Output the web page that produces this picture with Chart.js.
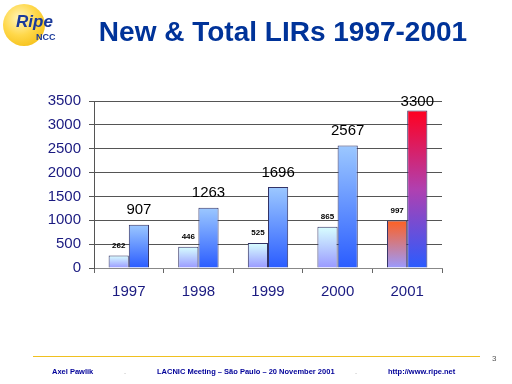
<!DOCTYPE html>
<html>
<head>
<meta charset="utf-8">
<script src="https://cdn.jsdelivr.net/npm/chart.js@4"></script>
<style>
  html, body { margin: 0; padding: 0; background: #fff; }
  #page { position: relative; width: 512px; height: 384px; overflow: hidden; font-family: "Liberation Sans", Arial, sans-serif; }
  #chart { position: absolute; left: 0; top: 0; }
  .logo { position: absolute; left: 3px; top: 4px; width: 42px; height: 42px; border-radius: 50%;
          background: radial-gradient(circle at 40% 35%, #fff6c0 0%, #ffd84a 45%, #f0b400 100%); }
  .logo .ripe { position: absolute; left: 13px; top: 8px; font: italic bold 17px "Liberation Sans", Arial, sans-serif; color: #1a3a9a; }
  .logo .ncc { position: absolute; left: 33px; top: 28px; font: bold 9px "Liberation Sans", Arial, sans-serif; color: #1a3a9a; }
  .title { position: absolute; left: 0; width: 566px; top: 16px; text-align: center; font: bold 28px "Liberation Sans", Arial, sans-serif; color: #003399; }
  .rule { position: absolute; left: 33px; top: 356px; width: 447px; height: 1px; background: #f0c020; }
  .foot { position: absolute; top: 367px; font: bold 7.5px "Liberation Sans", Arial, sans-serif; color: #000099; white-space: nowrap; }
  .pg { position: absolute; left: 492px; top: 354px; font: 8px "Liberation Sans", Arial, sans-serif; color: #555; }
</style>
</head>
<body>
<div id="page">
  <canvas id="chart" width="512" height="384"></canvas>
  <div class="logo"><span class="ripe">Ripe</span><span class="ncc">NCC</span></div>
  <div class="title">New &amp; Total LIRs 1997-2001</div>
  <div class="rule"></div>
  <div class="foot" style="left:52px">Axel Pawlik</div>
  <div class="foot" style="left:124px; color:#ccc">.</div>
  <div class="foot" style="left:157px">LACNIC Meeting – São Paulo – 20 November 2001</div>
  <div class="foot" style="left:355px; color:#ccc">.</div>
  <div class="foot" style="left:388px">http://www.ripe.net</div>
  <div class="pg">3</div>
</div>
<script>
const years = ["1997", "1998", "1999", "2000", "2001"];
const newLirs = [262, 446, 525, 865, 997];
const totalLirs = [907, 1263, 1696, 2567, 3300];
const yTicks = [0, 500, 1000, 1500, 2000, 2500, 3000, 3500];

// gradient per bar, from the bar top down to the zero line
function barGradient(ctx, topColor, bottomColor, lastStops) {
  const chart = ctx.chart;
  const y = chart.scales.y;
  if (!y || !ctx.parsed) return bottomColor;
  const yTop = y.getPixelForValue(ctx.parsed.y);
  const yBase = y.getPixelForValue(0);
  if (!isFinite(yTop) || !isFinite(yBase) || yTop === yBase) return bottomColor;
  const g = chart.ctx.createLinearGradient(0, yTop, 0, yBase);
  const stops = ctx.dataIndex === years.length - 1 ? lastStops : [topColor, bottomColor];
  stops.forEach((c, k) => g.addColorStop(k / (stops.length - 1), c));
  return g;
}

const valueLabels = {
  id: "valueLabels",
  afterDatasetsDraw(chart) {
    const ctx = chart.ctx;
    const top = chart.chartArea.top;
    ctx.save();
    ctx.textAlign = "center";
    ctx.textBaseline = "bottom";
    ctx.fillStyle = "#000";
    chart.data.datasets.forEach((ds, i) => {
      const meta = chart.getDatasetMeta(i);
      ctx.font = i === 0 ? "bold 8px 'Liberation Sans', Arial, sans-serif" : "15px 'Liberation Sans', Arial, sans-serif";
      meta.data.forEach((bar, j) => {
        // labels are kept from rising far above the plot top
        const yb = Math.max(bar.y - (i === 0 ? 6 : 7), top + 8);
        ctx.fillText(String(ds.data[j]), bar.x, yb);
      });
    });
    ctx.restore();
  }
};

new Chart(document.getElementById("chart").getContext("2d"), {
  type: "bar",
  data: {
    labels: years,
    datasets: [
      {
        label: "New",
        data: newLirs,
        backgroundColor: c => barGradient(c, "#d8ffff", "#9999ff", ["#ff6020", "#9a9aff"]),
        borderColor: "#333366",
        borderWidth: 1,
        borderSkipped: "bottom",
        barPercentage: 1,
        categoryPercentage: 0.58
      },
      {
        label: "Total",
        data: totalLirs,
        backgroundColor: c => barGradient(c, "#9cc8ff", "#2a5cff", ["#ff0020", "#b040b0", "#2a5cff"]),
        borderColor: "#333366",
        borderWidth: 1,
        borderSkipped: "bottom",
        barPercentage: 1,
        categoryPercentage: 0.58
      }
    ]
  },
  options: {
    responsive: false,
    animation: false,
    layout: { padding: { left: 0, right: 70, top: 101, bottom: 0 } },
    plugins: { legend: { display: false }, tooltip: { enabled: false } },
    scales: {
      x: {
        afterFit: s => { s.height = 116; },
        grid: { display: true, drawOnChartArea: false, offset: true, color: "#666", tickLength: 5 },
        border: { color: "#888" },
        ticks: { color: "#1a1a80", font: { family: "'Liberation Sans', Arial, sans-serif", size: 15 }, padding: 10 }
      },
      y: {
        min: 0,
        max: 3500,
        afterFit: s => { s.width = 94; },
        afterBuildTicks: s => { s.ticks = yTicks.map(v => ({ value: v })); },
        grid: { color: "#555", tickLength: 5 },
        border: { color: "#555" },
        ticks: {
          color: "#1a1a80",
          font: { family: "'Liberation Sans', Arial, sans-serif", size: 15 },
          padding: 8,
          callback: v => String(v)
        }
      }
    }
  },
  plugins: [valueLabels]
});
</script>
</body>
</html>
